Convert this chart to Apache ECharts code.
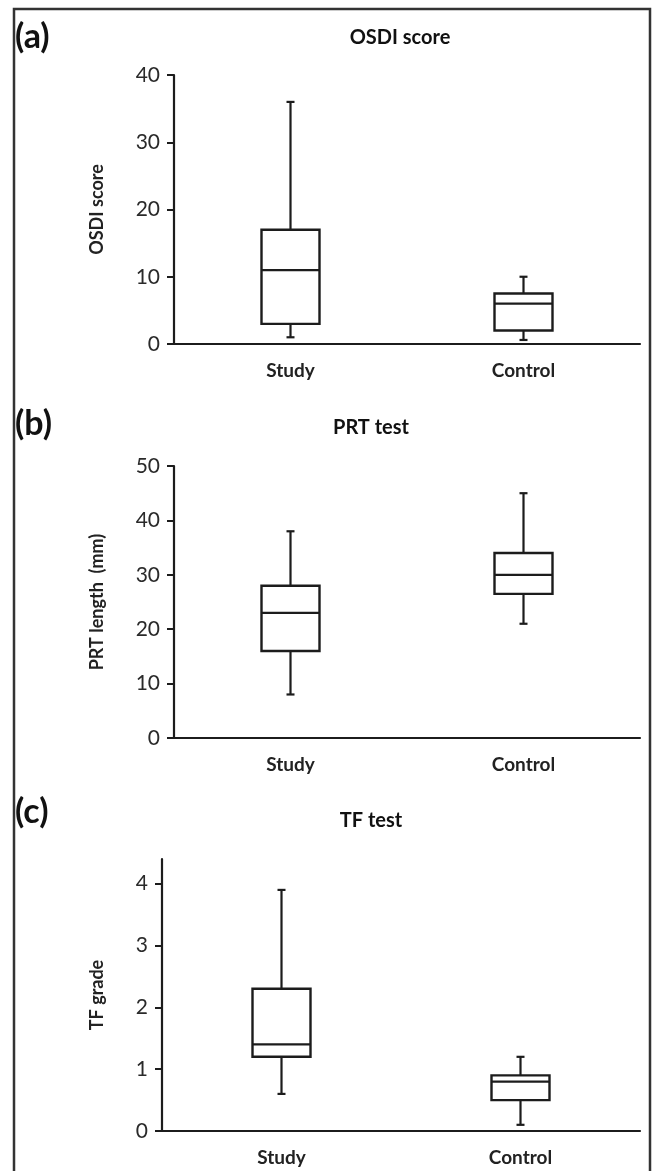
<!DOCTYPE html>
<html>
<head>
<meta charset="utf-8">
<script src="https://cdn.jsdelivr.net/npm/echarts@6/dist/echarts.min.js"></script>
<style>
html,body{margin:0;padding:0;background:#fff;}
#chart{width:652px;height:1171px;}
</style>
</head>
<body>
<div id="chart"></div>
<script>
// ---- data ----
const categories = ['Study', 'Control'];
// [min, Q1, median, Q3, max]
const osdiStudy   = [1, 3, 11, 17, 36];
const osdiControl = [0.6, 2, 6, 7.5, 10];
const prtStudy    = [8, 16, 23, 28, 38];
const prtControl  = [21, 26.5, 30, 34, 45];
const tfStudy     = [0.6, 1.2, 1.4, 2.3, 3.9];
const tfControl   = [0.1, 0.5, 0.8, 0.9, 1.2];

const osdiTicks = [0, 10, 20, 30, 40];
const prtTicks  = [0, 10, 20, 30, 40, 50];
const tfTicks   = [0, 1, 2, 3, 4];

const panelTitles = ['OSDI score', 'PRT test', 'TF test'];
const panelLabels = ['(a)', '(b)', '(c)'];
const yNames = ['OSDI score', 'PRT length  (mm)', 'TF grade'];

// ---- style ----
const FONT = 'Lato';
const INK = '#1c1c1c';
const BOX_W = 58;
const CAP_W = 8;

const chart = echarts.init(document.getElementById('chart'), null, {renderer: 'canvas'});

function boxRender(params, api) {
  const x = api.value(0);
  const vals = [api.value(1), api.value(2), api.value(3), api.value(4), api.value(5)];
  const p = vals.map(v => api.coord([x, v]));
  const cx = p[0][0];
  const yMin = p[0][1], yQ1 = p[1][1], yMed = p[2][1], yQ3 = p[3][1], yMax = p[4][1];
  const half = BOX_W / 2;
  const st = {stroke: INK, lineWidth: 2.2, fill: null};
  return {
    type: 'group',
    children: [
      {type: 'line', shape: {x1: cx, y1: yQ3, x2: cx, y2: yMax}, style: st},
      {type: 'line', shape: {x1: cx, y1: yQ1, x2: cx, y2: yMin}, style: st},
      {type: 'line', shape: {x1: cx - CAP_W/2, y1: yMax, x2: cx + CAP_W/2, y2: yMax}, style: st},
      {type: 'line', shape: {x1: cx - CAP_W/2, y1: yMin, x2: cx + CAP_W/2, y2: yMin}, style: st},
      {type: 'rect', shape: {x: cx - half, y: yQ3, width: BOX_W, height: yQ1 - yQ3}, style: {stroke: INK, lineWidth: 2.4, fill: '#fff'}},
      {type: 'line', shape: {x1: cx - half, y1: yMed, x2: cx + half, y2: yMed}, style: st}
    ]
  };
}

const grids = [
  {left: 174, right: 12, top: 75, height: 269},
  {left: 174, right: 12, top: 466, height: 272},
  {left: 162, right: 12, top: 859, height: 272}
];

const yCfg = [
  {min: 0, max: 40, interval: 10, ticks: osdiTicks, gap: 68},
  {min: 0, max: 50, interval: 10, ticks: prtTicks, gap: 68},
  {min: 0, max: 4.4, interval: 1, ticks: tfTicks, gap: 56}
];

const dataSets = [
  [osdiStudy, osdiControl],
  [prtStudy, prtControl],
  [tfStudy, tfControl]
];

const xAxes = grids.map((g, i) => ({
  type: 'category',
  gridIndex: i,
  data: categories,
  boundaryGap: true,
  axisLine: {lineStyle: {color: INK, width: 2.2}},
  axisTick: {show: false},
  axisLabel: {color: '#222', fontFamily: FONT, fontWeight: 'bold', fontSize: 19, margin: 17}
}));

const yAxes = yCfg.map((c, i) => ({
  type: 'value',
  gridIndex: i,
  min: c.min, max: c.max, interval: c.interval,
  name: yNames[i],
  nameLocation: 'middle',
  nameGap: c.gap,
  nameRotate: 90,
  nameTextStyle: {color: '#222', fontFamily: FONT, fontWeight: 'bold', fontSize: 18},
  splitLine: {show: false},
  axisLine: {show: true, lineStyle: {color: INK, width: 2.2}},
  axisTick: {show: true, inside: false, length: 7, lineStyle: {color: INK, width: 2}, customValues: c.ticks},
  axisLabel: {color: '#2a2a2a', fontFamily: FONT, fontSize: 21, margin: 14, customValues: c.ticks}
}));

const series = dataSets.map((ds, i) => ({
  type: 'custom',
  xAxisIndex: i,
  yAxisIndex: i,
  renderItem: boxRender,
  data: ds.map((v, k) => [k].concat(v)),
  encode: {x: 0, y: [1, 2, 3, 4, 5]},
  silent: true
}));

const titleCenters = [[395, 35], [366, 425], [366, 818]];
const labelTops = [20, 407, 795];

const titles = panelTitles.map((t, i) => ({
  text: t,
  left: titleCenters[i][0],
  top: titleCenters[i][1] - 12,
  textAlign: 'center',
  textStyle: {fontFamily: FONT, fontWeight: 'bold', fontSize: 20, color: '#111'}
}));

const graphics = [
  {type: 'rect', shape: {x: 14, y: 9, width: 636, height: 1200}, style: {fill: null, stroke: '#333', lineWidth: 2.5}, silent: true}
].concat(panelLabels.map((t, i) => ({
  type: 'text', left: 15, top: labelTops[i],
  style: {text: t, fontFamily: FONT, fontWeight: 'bold', fontSize: 34, fill: '#111'}
})));

chart.setOption({
  animation: false,
  backgroundColor: '#fff',
  title: titles,
  grid: grids,
  xAxis: xAxes,
  yAxis: yAxes,
  series: series,
  graphic: graphics
});
</script>
</body>
</html>
